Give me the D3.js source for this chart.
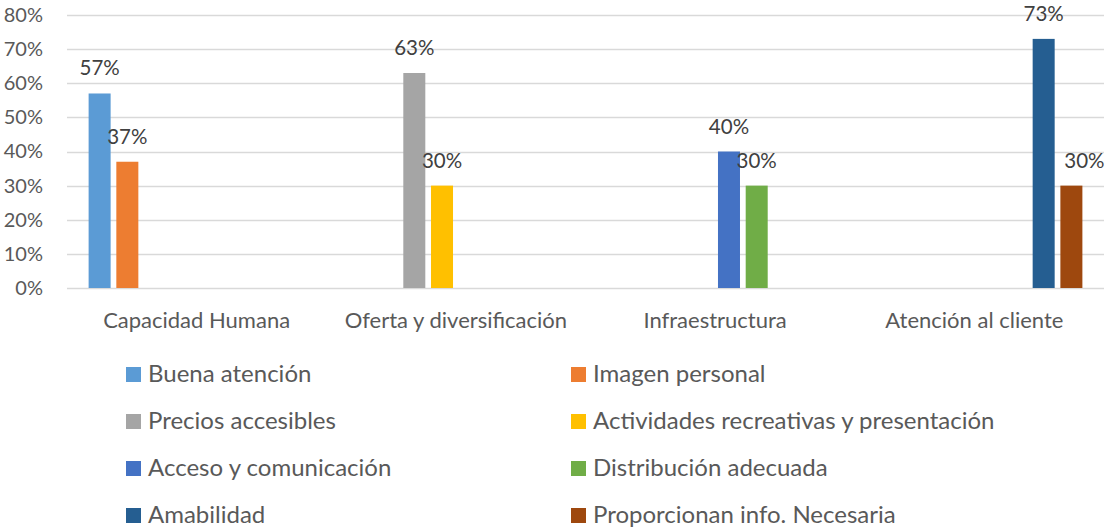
<!DOCTYPE html>
<html>
<head>
<meta charset="utf-8">
<script src="https://cdn.jsdelivr.net/npm/d3@7"></script>
<style>
  body { margin: 0; background: #fff; }
  svg { display: block; font-family: Lato, "Noto Sans", sans-serif; }
</style>
</head>
<body>
<div id="chart"></div>
<script>
const width = 1110;
const height = 531;
const margin = { top: 15, right: 6, bottom: 243, left: 67 };

const categories = ["Capacidad Humana", "Oferta y diversificación", "Infraestructura", "Atención al cliente"];
const series = [
  "Buena atención",
  "Imagen personal",
  "Precios accesibles",
  "Actividades recreativas y presentación",
  "Acceso y comunicación",
  "Distribución adecuada",
  "Amabilidad",
  "Proporcionan info. Necesaria",
];
const colors = ["#5b9bd5", "#ed7d31", "#a5a5a5", "#ffc000", "#4472c4", "#70ad47", "#255e91", "#9e480e"];
// one value per series, in the category it belongs to
const seriesCategory = [0, 0, 1, 1, 2, 2, 3, 3];
const values = [0.57, 0.37, 0.63, 0.30, 0.40, 0.30, 0.73, 0.30];
const yTicks = [0, 0.1, 0.2, 0.3, 0.4, 0.5, 0.6, 0.7, 0.8];

const textColor = "#595959";

const svg = d3.select("#chart").append("svg")
  .attr("width", width)
  .attr("height", height);

const x0 = d3.scaleBand()
  .domain(categories)
  .range([margin.left, width - margin.right])
  .padding(0);

const x1 = d3.scaleBand()
  .domain(series)
  .range([0, x0.bandwidth()])
  .paddingInner(0.206)
  .paddingOuter(0.78);

const y = d3.scaleLinear()
  .domain([0, 0.8])
  .range([height - margin.bottom, margin.top]);

// gridlines
svg.append("g")
  .selectAll("line")
  .data(yTicks)
  .join("line")
  .attr("x1", margin.left)
  .attr("x2", width - margin.right)
  .attr("y1", (d) => Math.round(y(d)) + 0.5)
  .attr("y2", (d) => Math.round(y(d)) + 0.5)
  .attr("stroke", "#d9d9d9")
  .attr("stroke-width", 1.3);

// y axis labels
const yAxis = (g) =>
  g
    .attr("transform", `translate(${margin.left},0)`)
    .call(d3.axisLeft(y).tickValues(yTicks).tickFormat(d3.format(".0%")).tickSize(0).tickPadding(24))
    .call((g) => g.select(".domain").remove())
    .call((g) => g.selectAll("text")
      .attr("fill", textColor)
      .attr("font-size", "20px")
      .attr("font-family", "Lato, sans-serif"));
svg.append("g").call(yAxis);

// x axis labels
const xAxis = (g) =>
  g
    .attr("transform", `translate(0,${height - margin.bottom})`)
    .call(d3.axisBottom(x0).tickSize(0).tickPadding(24))
    .call((g) => g.select(".domain").remove())
    .call((g) => g.selectAll("text")
      .attr("fill", textColor)
      .attr("font-size", "22px")
      .attr("font-family", "Lato, sans-serif"));
svg.append("g").call(xAxis);

const barData = series.map((s, i) => ({
  name: s,
  category: categories[seriesCategory[i]],
  value: values[i],
  color: colors[i],
}));

// bars
svg.append("g")
  .selectAll("rect")
  .data(barData)
  .join("rect")
  .attr("x", (d) => x0(d.category) + x1(d.name))
  .attr("y", (d) => y(d.value))
  .attr("width", x1.bandwidth())
  .attr("height", (d) => y(0) - y(d.value))
  .attr("fill", (d) => d.color);

// the last label was dragged right in the original
const labelShift = { "Proporcionan info. Necesaria": 13 };

svg.append("g")
  .selectAll("text")
  .data(barData)
  .join("text")
  .attr("x", (d) => x0(d.category) + x1(d.name) + x1.bandwidth() / 2 + (labelShift[d.name] || 0))
  .attr("y", (d) => y(d.value) - 18)
  .attr("text-anchor", "middle")
  .attr("fill", "#404040")
  .attr("font-size", "20.5px")
  .text((d) => d3.format(".0%")(d.value));

// legend, two columns
const legendCol = d3.scaleOrdinal().domain([0, 1]).range([126, 571]);
const legendRow = d3.scaleLinear().domain([0, 3]).range([374, 515]);

const legend = svg.append("g")
  .selectAll("g")
  .data(barData)
  .join("g")
  .attr("transform", (d, i) => `translate(${legendCol(i % 2)},${legendRow(Math.floor(i / 2))})`);

legend.append("rect")
  .attr("x", 0)
  .attr("y", -7)
  .attr("width", 15)
  .attr("height", 15)
  .attr("fill", (d) => d.color);

legend.append("text")
  .attr("x", 22)
  .attr("y", 0)
  .attr("dy", "0.33em")
  .attr("fill", textColor)
  .attr("font-size", "24px")
  .text((d) => d.name);
</script>
</body>
</html>
